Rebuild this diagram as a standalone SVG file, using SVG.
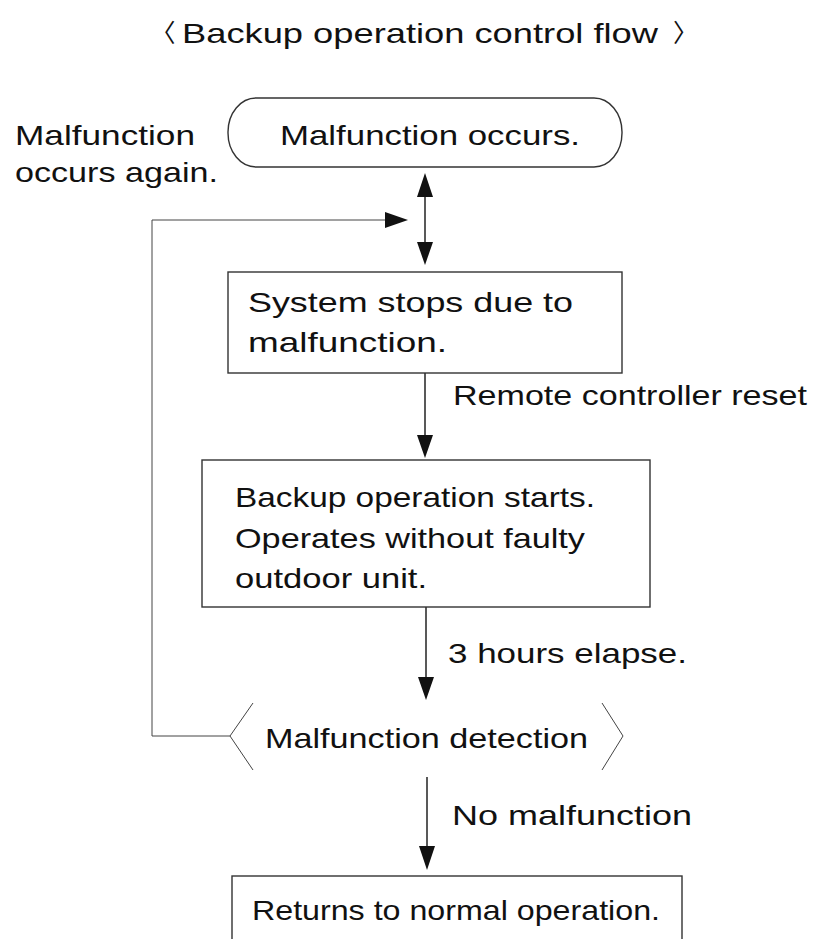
<svg xmlns="http://www.w3.org/2000/svg" width="827" height="939" viewBox="0 0 827 939">
<defs>
<style>
text{font-family:"Liberation Sans",Arial,sans-serif;font-size:28.5px;fill:#111}
.box{fill:#fff;stroke:#333;stroke-width:1.4}
.ln{fill:none;stroke:#222;stroke-width:1.5}
.thin{fill:none;stroke:#444;stroke-width:1}
.ah{fill:#111}
.br{font-family:"Noto Sans CJK JP","Noto Sans CJK SC",sans-serif;font-size:25px}
</style>
</defs>
<rect width="827" height="939" fill="#fff"/>
<g id="title">
<text class="br" x="175.5" y="42" text-anchor="end">〈</text>
<text x="182" y="43" textLength="476" lengthAdjust="spacingAndGlyphs">Backup operation control flow</text>
<text class="br" x="673" y="42">〉</text>
</g>
<g id="connectors">
<line class="ln" x1="425" y1="190" x2="425" y2="250"/>
<polygon class="ah" points="425,173 417,197 433,197"/>
<polygon class="ah" points="425,265 417,242 433,242"/>
<polyline class="thin" points="230,736 152,736 152,220 390,220"/>
<polygon class="ah" points="408,220 385,212 385,228"/>
<line class="ln" x1="425" y1="373" x2="425" y2="440"/>
<polygon class="ah" points="425,458 417,435 433,435"/>
<line class="ln" x1="426" y1="607" x2="426" y2="680"/>
<polygon class="ah" points="426,700 418,677 434,677"/>
<line class="ln" x1="427" y1="777" x2="427" y2="850"/>
<polygon class="ah" points="427,870 419,846 435,846"/>
<text x="453" y="405" textLength="354" lengthAdjust="spacingAndGlyphs">Remote controller reset</text>
<text x="448" y="663" textLength="239" lengthAdjust="spacingAndGlyphs">3 hours elapse.</text>
<text x="452" y="825" textLength="240" lengthAdjust="spacingAndGlyphs">No malfunction</text>
<text x="15" y="145" textLength="180" lengthAdjust="spacingAndGlyphs">Malfunction</text>
<text x="15" y="182" textLength="203" lengthAdjust="spacingAndGlyphs">occurs again.</text>
</g>
<g id="n_start">
<rect class="box" x="228" y="98" width="394" height="69" rx="28" ry="34"/>
<text x="280" y="145" textLength="300" lengthAdjust="spacingAndGlyphs">Malfunction occurs.</text>
</g>
<g id="n_stop">
<rect class="box" x="228" y="272" width="394" height="101"/>
<text x="248" y="312" textLength="325" lengthAdjust="spacingAndGlyphs">System stops due to</text>
<text x="248" y="352" textLength="199" lengthAdjust="spacingAndGlyphs">malfunction.</text>
</g>
<g id="n_backup">
<rect class="box" x="202" y="460" width="448" height="147"/>
<text x="235" y="507" textLength="360" lengthAdjust="spacingAndGlyphs">Backup operation starts.</text>
<text x="235" y="548" textLength="350" lengthAdjust="spacingAndGlyphs">Operates without faulty</text>
<text x="235" y="588" textLength="192" lengthAdjust="spacingAndGlyphs">outdoor unit.</text>
</g>
<g id="n_detect">
<polyline class="thin" points="253,703 230,736 253,770"/>
<polyline class="thin" points="602,703 623,736 602,770"/>
<text x="265" y="748" textLength="323" lengthAdjust="spacingAndGlyphs">Malfunction detection</text>
</g>
<g id="n_return">
<rect class="box" x="232" y="876" width="450" height="100"/>
<text x="252" y="920" textLength="408" lengthAdjust="spacingAndGlyphs">Returns to normal operation.</text>
</g>
</svg>
